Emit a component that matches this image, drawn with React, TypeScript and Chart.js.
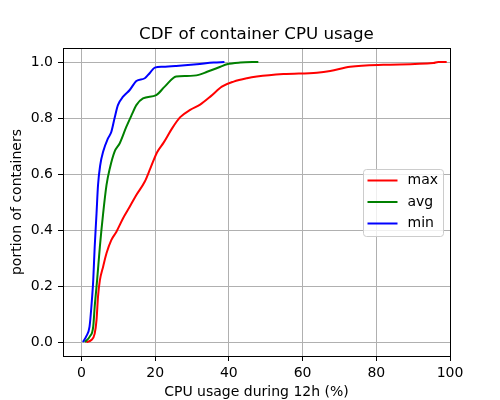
import React, { useEffect, useRef } from "react";
import { Chart, registerables } from "chart.js";

Chart.register(...registerables);

const chartTitle = "CDF of container CPU usage";
const seriesLabels = ["max", "avg", "min"];

const maxX = [1.3, 2.7, 3.6, 4.1, 4.5, 5.0, 5.9, 6.8, 8.1, 9.5, 11.3, 13.1, 14.9, 17.2, 18.7, 20.5, 22.3, 24.6, 26.8, 29.5, 32.2, 35.2, 38.1, 41.3, 44.9, 47.6, 54.8, 63.9, 67.5, 72.9, 81.9, 95.5, 96.8, 99.1];
const maxY = [0, 0.007, 0.03, 0.079, 0.162, 0.22, 0.27, 0.317, 0.364, 0.394, 0.442, 0.483, 0.525, 0.573, 0.62, 0.677, 0.712, 0.763, 0.803, 0.829, 0.848, 0.879, 0.912, 0.93, 0.942, 0.948, 0.957, 0.962, 0.968, 0.983, 0.99, 0.996, 1.0, 1.0];

const avgX = [0.9, 2.3, 3.2, 3.6, 4.25, 5.0, 5.9, 6.8, 7.7, 9.0, 10.4, 12.2, 13.6, 14.9, 16.7, 20.3, 22.6, 25.7, 28.6, 31.8, 34.1, 37.7, 39.5, 43.1, 48.0];
const avgY = [0, 0.02, 0.055, 0.126, 0.22, 0.34, 0.46, 0.56, 0.62, 0.68, 0.71, 0.769, 0.81, 0.846, 0.87, 0.882, 0.912, 0.948, 0.95, 0.954, 0.965, 0.983, 0.992, 0.998, 1.0];

const minX = [0.4, 1.3, 2.2, 2.7, 3.2, 3.6, 4.1, 4.5, 5.1, 5.9, 7.2, 8.1, 9.0, 9.9, 11.3, 13.1, 14.9, 17.2, 18.5, 19.9, 22.1, 25.7, 31.3, 35.9, 38.8];
const minY = [0, 0.02, 0.055, 0.126, 0.22, 0.34, 0.46, 0.56, 0.632, 0.68, 0.727, 0.75, 0.8, 0.846, 0.876, 0.9, 0.932, 0.942, 0.96, 0.98, 0.983, 0.986, 0.992, 0.998, 1.0];

const xTicks = [0, 20, 40, 60, 80, 100];
const yTicks = [0, 0.2, 0.4, 0.6, 0.8, 1.0];

const FONT = "'DejaVu Sans', sans-serif";

export default function App() {
  const ref = useRef<HTMLCanvasElement>(null);

  useEffect(() => {
    if (!ref.current) return;
    const zip = (xs: number[], ys: number[]) => xs.map((x, i) => ({ x, y: ys[i] }));

    const frame = {
      id: "frame",
      afterDatasetsDraw(chart: any) {
        const { ctx, chartArea } = chart;
        ctx.save();
        // spines
        ctx.strokeStyle = "#000";
        ctx.lineWidth = 1;
        ctx.strokeRect(
          Math.round(chartArea.left) + 0.5,
          Math.round(chartArea.top) + 0.5,
          Math.round(chartArea.right - chartArea.left),
          Math.round(chartArea.bottom - chartArea.top)
        );
        // title centred on the axes
        ctx.fillStyle = "#000";
        ctx.font = `16.7px ${FONT}`;
        ctx.textAlign = "center";
        ctx.textBaseline = "middle";
        ctx.fillText(chartTitle, (chartArea.left + chartArea.right) / 2, chartArea.top - 13.5);
        // legend
        const bw = 80;
        const bh = 67;
        const bx = Math.round(chartArea.right - 7 - bw) + 0.5;
        const by = Math.round(chartArea.top + 121) + 0.5;
        ctx.fillStyle = "rgba(255,255,255,0.8)";
        ctx.strokeStyle = "#cccccc";
        ctx.lineWidth = 1;
        ctx.beginPath();
        (ctx as any).roundRect(bx, by, bw, bh, 3);
        ctx.fill();
        ctx.stroke();
        ctx.font = `14px ${FONT}`;
        ctx.textBaseline = "middle";
        ctx.textAlign = "left";
        chart.data.datasets.forEach((ds: any, i: number) => {
          const y = by + 11 + i * 21.5;
          ctx.strokeStyle = ds.borderColor;
          ctx.lineWidth = 2;
          ctx.beginPath();
          ctx.moveTo(bx + 4, y);
          ctx.lineTo(bx + 34, y);
          ctx.stroke();
          ctx.fillStyle = "#000";
          ctx.fillText(ds.label, bx + 44, y);
        });
        ctx.restore();
      },
    };

    const tickFont = { family: FONT, size: 14 };

    const chart = new Chart(ref.current, {
      type: "line",
      data: {
        datasets: [
          { label: seriesLabels[0], data: zip(maxX, maxY), borderColor: "#ff0000", backgroundColor: "#ff0000", order: 3 },
          { label: seriesLabels[1], data: zip(avgX, avgY), borderColor: "#008000", backgroundColor: "#008000", order: 2 },
          { label: seriesLabels[2], data: zip(minX, minY), borderColor: "#0000ff", backgroundColor: "#0000ff", order: 1 },
        ],
      },
      options: {
        animation: false,
        responsive: false,
        layout: { padding: { left: 0, right: 50, top: 48, bottom: 0 } },
        elements: {
          point: { radius: 0 },
          line: { borderWidth: 2, cubicInterpolationMode: "monotone", fill: false },
        },
        plugins: {
          legend: { display: false },
          tooltip: { enabled: false },
          title: { display: false },
        },
        scales: {
          x: {
            type: "linear",
            min: -5,
            max: 100,
            afterBuildTicks: (s: any) => {
              s.ticks = xTicks.map((v) => ({ value: v }));
            },
            afterFit: (s: any) => {
              s.height = 44;
            },
            grid: { color: "#b0b0b0", lineWidth: 1, tickLength: 5, tickColor: "#000", drawTicks: true },
            border: { display: false },
            ticks: { color: "#000", font: tickFont, padding: 3.5, maxRotation: 0, autoSkip: false, callback: (v: any) => String(v) },
            title: { display: true, text: "CPU usage during 12h (%)", color: "#000", font: tickFont, padding: { top: 0, bottom: -0.5 } },
          },
          y: {
            type: "linear",
            min: -0.05,
            max: 1.05,
            afterBuildTicks: (s: any) => {
              s.ticks = yTicks.map((v) => ({ value: v }));
            },
            afterFit: (s: any) => {
              s.width = 63;
            },
            grid: { color: "#b0b0b0", lineWidth: 1, tickLength: 5, tickColor: "#000", drawTicks: true },
            border: { display: false },
            ticks: { color: "#000", font: tickFont, padding: 5, autoSkip: false, callback: (v: any) => Number(v).toFixed(1) },
            title: { display: true, text: "portion of containers", color: "#000", font: tickFont, padding: { top: 8.6, bottom: 0 } },
          },
        },
      } as any,
      plugins: [frame],
    });
    return () => chart.destroy();
  }, []);

  return (
    <canvas
      ref={ref}
      width={500}
      height={400}
      style={{ display: "block", position: "absolute", left: 0, top: 0, width: 500, height: 400 }}
    />
  );
}
